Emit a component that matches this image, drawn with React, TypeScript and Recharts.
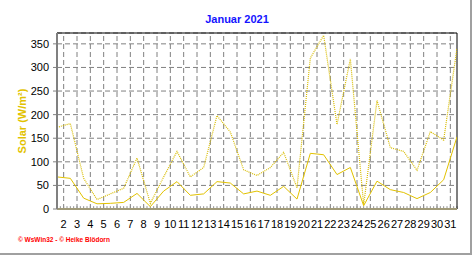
import React from "react";
import {
  LineChart,
  Line,
  XAxis,
  YAxis,
  CartesianGrid,
  ReferenceLine,
} from "recharts";

// ─── Data (Januar 2021, Solar W/m²) ───────────────────────────────────────────
const DAYS = [
  1, 2, 3, 4, 5, 6, 7, 8, 9, 10, 11, 12, 13, 14, 15, 16, 17, 18, 19, 20, 21, 22,
  23, 24, 25, 26, 27, 28, 29, 30, 31,
];
const SOLAR_AVG = [
  68, 65, 23, 11, 12, 14, 33, 5, 38, 58, 29, 32, 58, 55, 32, 38, 29, 48, 21, 118,
  115, 73, 88, 7, 59, 41, 35, 22, 35, 62, 153,
];
const SOLAR_MAX = [
  173, 181, 65, 20, 32, 44, 108, 12, 68, 122, 68, 88, 198, 163, 83, 71, 88, 120,
  45, 320, 368, 179, 318, 9, 230, 130, 122, 82, 164, 146, 341,
];
const DAY_LABELS = [
  "2", "3", "4", "5", "6", "7", "8", "9", "10", "11", "12", "13", "14", "15",
  "16", "17", "18", "19", "20", "21", "22", "23", "24", "25", "26", "27", "28",
  "29", "30", "31",
];
const Y_TICKS = [0, 50, 100, 150, 200, 250, 300, 350];

const Y_MAX = 373;
const FONT = "Arial, 'Liberation Sans', sans-serif";
const GOLD = "#E2C200";

const rows = DAYS.map((d, i) => ({ day: d, avg: SOLAR_AVG[i], max: SOLAR_MAX[i] }));

// labels sit at the start of each day, values in the middle
const X_TICKS = DAY_LABELS.map((l) => Number(l) - 0.5);
const X_MINOR = Array.from({ length: 121 }, (_, i) => 1 + i * 0.25);
const Y_MINOR = Array.from({ length: 38 }, (_, i) => i * 10);

const YLabel = ({ viewBox }: any) => {
  const cx = viewBox.x + 9.5;
  const cy = viewBox.y + viewBox.height / 2;
  return (
    <text
      x={cx}
      y={cy}
      transform={`rotate(-90 ${cx} ${cy})`}
      textAnchor="middle"
      dominantBaseline="central"
      fill={GOLD}
      fontSize={11}
      fontWeight="bold"
      fontFamily={FONT}
    >
      Solar (W/m²)
    </text>
  );
};

const App: React.FC = () => {
  return (
    <div
      style={{
        position: "absolute",
        left: 0,
        top: 0,
        width: 472,
        height: 255,
        background: "#fff",
        fontFamily: FONT,
      }}
    >
      {/* Title */}
      <div
        style={{
          position: "absolute",
          top: 13,
          left: 0,
          width: 474,
          textAlign: "center",
          fontSize: 11,
          lineHeight: "13px",
          fontWeight: "bold",
          color: "#1414FF",
        }}
      >
        Januar 2021
      </div>

      <LineChart
        width={472}
        height={255}
        data={rows}
        margin={{ top: 33, right: 15, bottom: 0, left: 12 }}
      >
        <CartesianGrid
          xAxisId="main"
          yAxisId="main"
          vertical={false}
          stroke="#808080"
          strokeDasharray="5 3"
        />
        {X_TICKS.map((v) => (
          <ReferenceLine
            key={v}
            xAxisId="main"
            yAxisId="main"
            x={v}
            stroke="#808080"
            strokeDasharray="5 3"
          />
        ))}
        {/* minor ticks along the bottom */}
        {X_MINOR.map((v) => (
          <ReferenceLine
            key={`m${v}`}
            xAxisId="main"
            yAxisId="main"
            segment={[
              { x: v, y: 0 },
              { x: v, y: 6 },
            ]}
            stroke="#909090"
          />
        ))}

        <YAxis
          yAxisId="minor"
          type="number"
          domain={[0, Y_MAX]}
          ticks={Y_MINOR}
          interval={0}
          allowDataOverflow
          width={0}
          tick={false}
          tickSize={3}
          tickLine={{ stroke: "#808080" }}
          axisLine={false}
        />

        <XAxis
          xAxisId="main"
          type="number"
          dataKey="day"
          domain={[1, 31]}
          ticks={X_TICKS}
          interval={0}
          allowDataOverflow
          height={46}
          tickFormatter={(v) => String(v + 0.5)}
          tickLine={false}
          tickSize={0}
          tickMargin={11}
          axisLine={{ stroke: "#A09A78", strokeWidth: 2 }}
          tick={{ fontSize: 11, fill: "#000", fontFamily: FONT }}
        />
        <YAxis
          yAxisId="main"
          type="number"
          domain={[0, Y_MAX]}
          ticks={Y_TICKS}
          interval={0}
          allowDataOverflow
          width={45}
          tickSize={4}
          tickMargin={4}
          tickLine={{ stroke: "#808080" }}
          axisLine={{ stroke: "#808080", strokeWidth: 2 }}
          tick={{ fontSize: 11, fill: "#000", fontFamily: FONT }}
          label={{ content: <YLabel /> }}
        />

        <ReferenceLine xAxisId="main" yAxisId="main" y={Y_MAX} stroke="#000" />
        <ReferenceLine xAxisId="main" yAxisId="main" x={31} stroke="#000" />

        <Line
          xAxisId="main"
          yAxisId="main"
          type="linear"
          dataKey="max"
          stroke="#D8BC00"
          strokeWidth={1.2}
          strokeDasharray="1 1"
          dot={false}
          isAnimationActive={false}
        />
        <Line
          xAxisId="main"
          yAxisId="main"
          type="linear"
          dataKey="avg"
          stroke={GOLD}
          strokeWidth={1}
          dot={false}
          isAnimationActive={false}
        />
      </LineChart>

      {/* Footer */}
      <div
        style={{
          position: "absolute",
          top: 236,
          left: 18,
          fontSize: 6.5,
          lineHeight: "8px",
          fontWeight: "bold",
          color: "#FF0000",
          whiteSpace: "nowrap",
        }}
      >
        © WsWin32 - © Heike Blödorn
      </div>

      {/* frame shadow */}
      <div style={{ position: "absolute", right: 0, top: 0, width: 2, height: 255, background: "#A0A0A0" }} />
      <div style={{ position: "absolute", left: 0, bottom: 0, width: 472, height: 2, background: "#A0A0A0" }} />
    </div>
  );
};

export default App;
